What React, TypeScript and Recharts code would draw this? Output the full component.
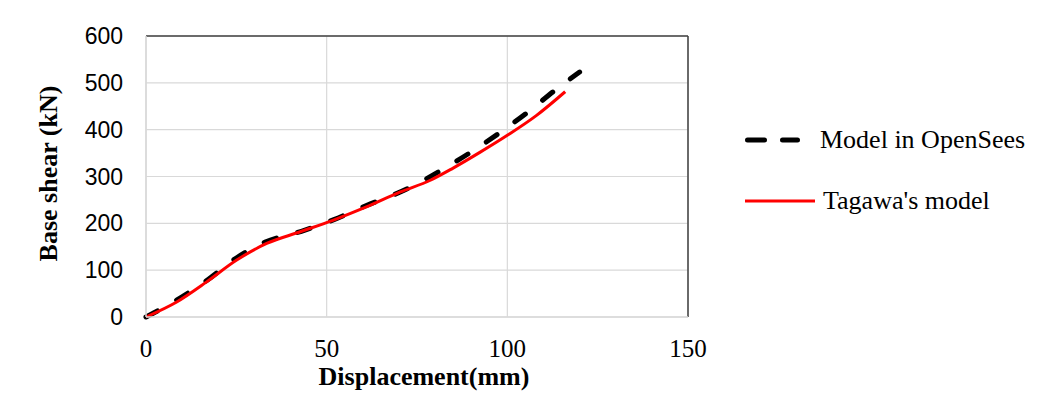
import React from 'react';
import { LineChart, Line, XAxis, YAxis, CartesianGrid, ReferenceLine, Legend } from 'recharts';

const openSeesDisp = [0, 8, 17, 25, 33, 43, 52, 61, 72.4, 81.2, 89.5, 97.8, 105.6, 113.5, 120];
const openSeesShear = [0, 34, 79, 126, 160, 183, 208, 238, 274, 311, 350, 393, 437, 486, 523];
const tagawaDisp = [0, 8.5, 16.8, 25, 33.4, 42.7, 51.9, 61, 70.4, 78.7, 85, 92.5, 100, 108, 116];
const tagawaShear = [0, 32, 75, 121, 157, 182, 207, 235, 267, 292, 318, 352, 388, 430, 481];

const xTicks = [0, 50, 100, 150];
const yTicks = [0, 100, 200, 300, 400, 500, 600];

const seriesNames = ['Model in OpenSees', "Tagawa's model"];

const openSeesData = openSeesDisp.map((x, i) => ({ x, y: openSeesShear[i] }));
const tagawaData = tagawaDisp.map((x, i) => ({ x, y: tagawaShear[i] }));

const serif = '"Liberation Serif", "Times New Roman", serif';
const sans = '"Liberation Sans", Arial, sans-serif';

const LegendContent = (props: any) => {
  const payload = props.payload || [];
  return (
    <div style={{ fontFamily: serif, fontSize: 26, color: '#000' }}>
      {payload.map((entry: any, i: number) => (
        <div
          key={i}
          style={{ display: 'flex', alignItems: 'center', height: 44, marginTop: i === 0 ? 0 : 16.5, whiteSpace: 'nowrap' }}
        >
          <svg width={78 + (i === 0 ? 0 : 3)} height={10} style={{ display: 'block' }}>
            {i === 0 ? (
              <line x1={5.5} y1={5} x2={55.5} y2={5} stroke={entry.color} strokeWidth={5} strokeDasharray="17 18" strokeLinecap="round" />
            ) : (
              <line x1={3} y1={5} x2={73} y2={5} stroke={entry.color} strokeWidth={3} />
            )}
          </svg>
          <span>{entry.value}</span>
        </div>
      ))}
    </div>
  );
};

export default function App() {
  return (
    <div style={{ position: 'absolute', left: 0, top: 0, background: '#fff' }}>
      <LineChart width={1050} height={397} margin={{ top: 36, right: 362, left: 20, bottom: 0 }}>
        <CartesianGrid stroke="#d9d9d9" strokeWidth={1.2} />
        <XAxis
          type="number"
          dataKey="x"
          domain={[0, 150]}
          ticks={xTicks}
          height={80}
          tickLine={false}
          tickSize={0}
          tickMargin={22}
          axisLine={{ stroke: '#d9d9d9', strokeWidth: 1.5 }}
          tick={{ fontFamily: serif, fontSize: 25, fill: '#000' }}
          label={{
            content: (p: any) => {
              const vb = p.viewBox;
              return (
                <text
                  x={vb.x + vb.width / 2 + 7}
                  y={vb.y + 68}
                  textAnchor="middle"
                  fontFamily={serif}
                  fontWeight="bold"
                  fontSize={26}
                  fill="#000"
                >
                  Displacement(mm)
                </text>
              );
            },
          }}
        />
        <YAxis
          type="number"
          dataKey="y"
          domain={[0, 600]}
          ticks={yTicks}
          width={126}
          tickLine={false}
          tickSize={0}
          tickMargin={23}
          axisLine={{ stroke: '#d9d9d9', strokeWidth: 1.5 }}
          tick={{ fontFamily: sans, fontSize: 23, fill: '#000' }}
          label={{
            content: (p: any) => {
              const vb = p.viewBox;
              const cx = vb.x + 28;
              const cy = vb.y + vb.height / 2 - 3;
              return (
                <text
                  x={cx}
                  y={cy}
                  textAnchor="middle"
                  dominantBaseline="central"
                  transform={`rotate(-90 ${cx} ${cy})`}
                  fontFamily={serif}
                  fontWeight="bold"
                  fontSize={26}
                  fill="#000"
                >
                  Base shear (kN)
                </text>
              );
            },
          }}
        />
        <ReferenceLine y={600} stroke="#404040" strokeWidth={1.5} />
        <ReferenceLine x={150} stroke="#404040" strokeWidth={1.5} />
        <Line
          data={openSeesData}
          dataKey="y"
          name={seriesNames[0]}
          type="monotone"
          stroke="#000"
          strokeWidth={5}
          strokeDasharray="13 22"
          strokeLinecap="round"
          dot={false}
          activeDot={false}
          isAnimationActive={false}
        />
        <Line
          data={tagawaData}
          dataKey="y"
          name={seriesNames[1]}
          type="monotone"
          stroke="#ff0000"
          strokeWidth={3}
          dot={false}
          activeDot={false}
          isAnimationActive={false}
        />
        <Legend
          layout="horizontal"
          align="center"
          verticalAlign="middle"
          content={<LegendContent />}
          wrapperStyle={{ left: 742, top: 118, width: 300, height: 110 }}
        />
      </LineChart>
    </div>
  );
}
